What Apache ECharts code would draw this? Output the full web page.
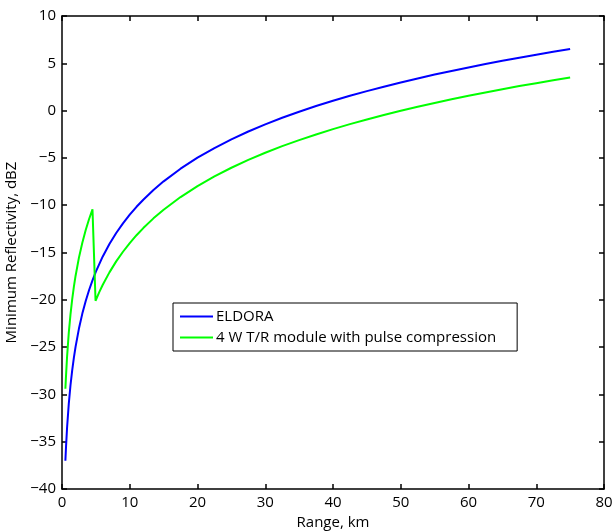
<!DOCTYPE html>
<html><head><meta charset="utf-8">
<script src="https://cdn.jsdelivr.net/npm/echarts@6/dist/echarts.min.js"></script>
<style>html,body{margin:0;padding:0;background:#fff}#c{width:613px;height:531px}</style>
</head><body><div id="c"></div>
<script>
var eldoraRange = [0.5,0.6,0.75,1,1.25,1.5,1.75,2,2.5,3,3.5,4,4.5,5,6,7,8,9,10,11,12,13.5,15,17.5,20,22.5,25,27.5,30,32.5,35,37.5,40,42.5,45,47.5,50,52.5,55,57.5,60,62.5,65,67.5,70,72.5,75];
var eldoraDbz   = [-37.02,-35.44,-33.50,-31.00,-29.06,-27.48,-26.14,-24.98,-23.04,-21.46,-20.12,-18.96,-17.94,-17.02,-15.44,-14.10,-12.94,-11.92,-11.00,-10.17,-9.42,-8.39,-7.48,-6.14,-4.98,-3.96,-3.04,-2.21,-1.46,-0.76,-0.12,0.48,1.04,1.57,2.06,2.53,2.98,3.40,3.81,4.19,4.56,4.92,5.26,5.59,5.90,6.21,6.50];
var trRange = [0.5,0.6,0.75,1,1.25,1.5,1.75,2,2.5,3,3.5,4,4.5,4.6,4.95,5.5,6,7,8,9,10,11,12,13.5,15,17.5,20,22.5,25,27.5,30,32.5,35,37.5,40,42.5,45,47.5,50,52.5,55,57.5,60,62.5,65,67.5,70,72.5,75];
var trDbz   = [-29.40,-27.94,-26.00,-23.50,-21.56,-19.98,-18.64,-17.48,-15.54,-13.96,-12.62,-11.46,-10.44,-10.25,-20.11,-19.19,-18.44,-17.10,-15.94,-14.92,-14.00,-13.17,-12.42,-11.39,-10.48,-9.14,-7.98,-6.96,-6.04,-5.21,-4.46,-3.76,-3.12,-2.52,-1.96,-1.43,-0.94,-0.47,-0.02,0.40,0.81,1.19,1.56,1.92,2.26,2.59,2.90,3.21,3.50];
var seriesNames = ['ELDORA','4 W T/R module with pulse compression'];
var xTitle = 'Range, km';
var yTitle = 'Minimum Reflectivity, dBZ';

function pairs(xs, ys){ return xs.map(function(x,i){ return [x, ys[i]]; }); }
var font = 'Open Sans';
var minus = function(v){ return String(v).replace('-', '\u2212'); };
var axisCommon = {
  axisLine:{show:true, onZero:false, lineStyle:{color:'#000', width:1.5}},
  axisTick:{show:true, inside:true, length:5, lineStyle:{color:'#000', width:1.5}},
  splitLine:{show:false}
};
var chart = echarts.init(document.getElementById('c'));
chart.setOption({
  animation:false,
  backgroundColor:'#fff',
  grid:{left:62, right:9, top:16, bottom:42, outerBoundsMode:'none', containLabel:false},
  xAxis:[
    Object.assign({type:'value', min:0, max:80, interval:10, position:'bottom',
      name:xTitle, nameLocation:'middle', nameGap:24,
      nameTextStyle:{fontFamily:font, fontSize:15, color:'#000'},
      axisLabel:{fontFamily:font, fontSize:15, color:'#000', margin:6, formatter:minus}}, axisCommon),
    Object.assign({type:'value', min:0, max:80, interval:10, position:'top', axisLabel:{show:false}}, axisCommon)
  ],
  yAxis:[
    Object.assign({type:'value', min:-40, max:10, interval:5, position:'left',
      name:yTitle, nameLocation:'middle', nameGap:31,
      nameTextStyle:{fontFamily:font, fontSize:15, color:'#000'},
      axisLabel:{fontFamily:font, fontSize:15, color:'#000', margin:6, formatter:minus}}, axisCommon),
    Object.assign({type:'value', min:-40, max:10, interval:5, position:'right', axisLabel:{show:false}}, axisCommon)
  ],
  legend:{
    left:173, top:303, orient:'vertical',
    icon:'rect', itemWidth:33, itemHeight:2, itemGap:6,
    padding:[6,21,6,7],
    borderColor:'#000', borderWidth:1, backgroundColor:'#fff',
    textStyle:{fontFamily:font, fontSize:15, lineHeight:15, color:'#000', padding:[0,0,0,-2]},
    data:seriesNames
  },
  series:[
    {name:seriesNames[0], type:'line', data:pairs(eldoraRange, eldoraDbz), symbol:'none', smooth:false,
      lineStyle:{color:'#0000ff', width:2}, itemStyle:{color:'#0000ff'}},
    {name:seriesNames[1], type:'line', data:pairs(trRange, trDbz), symbol:'none', smooth:false,
      lineStyle:{color:'#00ff00', width:2}, itemStyle:{color:'#00ff00'}}
  ]
});
</script></body></html>
